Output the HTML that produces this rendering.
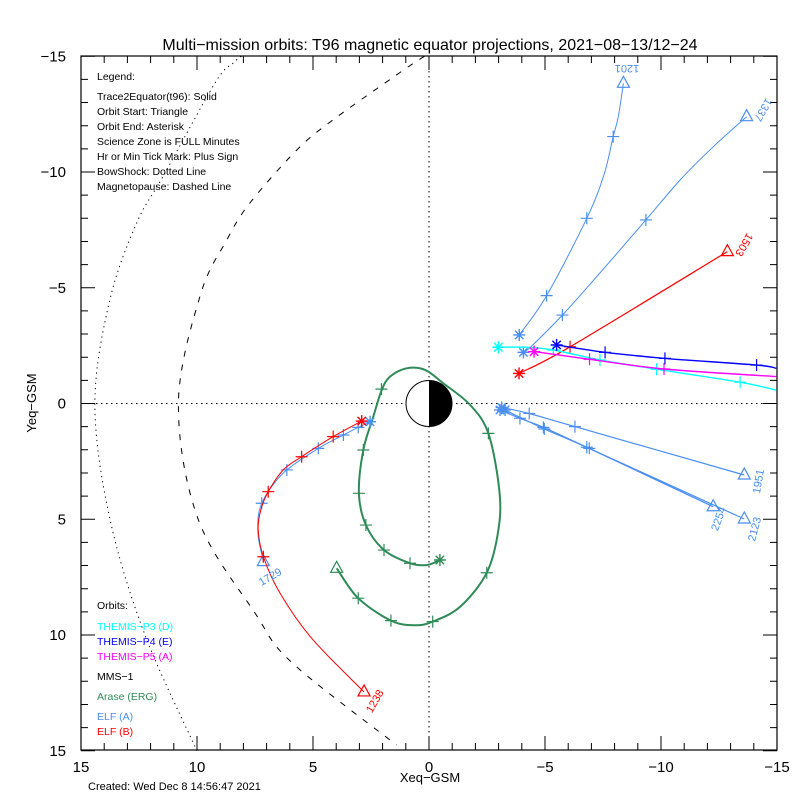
<!DOCTYPE html>
<html><head><meta charset="utf-8">
<style>
html,body{margin:0;padding:0;background:#fff;}
svg{display:block;font-family:"Liberation Sans",sans-serif;}
</style></head>
<body>
<svg id="chart" width="800" height="800" viewBox="0 0 800 800">
<rect x="0" y="0" width="800" height="800" fill="#fff"/>
<text x="430" y="50" font-size="16" text-anchor="middle" fill="#000">Multi−mission orbits: T96 magnetic equator projections, 2021−08−13/12−24</text>
<text x="430" y="782" font-size="13" text-anchor="middle">Xeq−GSM</text>
<text x="36" y="403" font-size="13" text-anchor="middle" transform="rotate(-90 36 403)">Yeq−GSM</text>
<text x="88" y="790" font-size="11">Created: Wed Dec  8 14:56:47 2021</text>
<g font-size="10.5" fill="#000">
<text x="97" y="80">Legend:</text>
<text x="97" y="100">Trace2Equator(t96): Solid</text>
<text x="97" y="115">Orbit Start: Triangle</text>
<text x="97" y="130">Orbit End: Asterisk</text>
<text x="97" y="145">Science Zone is FULL Minutes</text>
<text x="97" y="160">Hr or Min Tick Mark: Plus Sign</text>
<text x="97" y="175">BowShock: Dotted Line</text>
<text x="97" y="190">Magnetopause: Dashed Line</text>
<text x="97" y="609">Orbits:</text>
<text x="97" y="630" fill="#00ffff">THEMIS−P3 (D)</text>
<text x="97" y="645" fill="#0000ff">THEMIS−P4 (E)</text>
<text x="97" y="660" fill="#ff00ff">THEMIS−P5 (A)</text>
<text x="97" y="680" fill="#000">MMS−1</text>
<text x="97" y="700" fill="#2e8b57">Arase (ERG)</text>
<text x="97" y="720" fill="#4a8ef0">ELF (A)</text>
<text x="97" y="735" fill="#ff0000">ELF (B)</text>
</g>
<g id="marks"></g>
<g font-size="11">
<text x="627" y="65" fill="#4a8ef0" text-anchor="middle" transform="rotate(180 627 65)">1201</text>
<text x="760" y="108" fill="#4a8ef0" text-anchor="middle" transform="rotate(120 760 108)">1337</text>
<text x="741" y="243" fill="#ff0000" text-anchor="middle" transform="rotate(120 741 243)">1503</text>
<text x="762" y="482" fill="#4a8ef0" text-anchor="middle" transform="rotate(-80 762 482)">1951</text>
<text x="722" y="520" fill="#4a8ef0" text-anchor="middle" transform="rotate(-70 722 520)">2254</text>
<text x="758" y="530" fill="#4a8ef0" text-anchor="middle" transform="rotate(-75 758 530)">2123</text>
<text x="272" y="580" fill="#4a8ef0" text-anchor="middle" transform="rotate(-30 272 580)">1729</text>
<text x="378" y="703" fill="#ff0000" text-anchor="middle" transform="rotate(-60 378 703)">1238</text>
</g>
</svg>
<script>
// axis ranges / tick values
const xTicks = [15, 10, 5, 0, -5, -10, -15];
const yTicks = [-15, -10, -5, 0, 5, 10, 15];
// boundaries (X as a function of Y)
const bowY = [-15, -14.7, -13.85, -9.8, -7.8, -4.5, 0, 5, 10, 15];
const bowX = [8.1, 8.45, 9.22, 11.47, 12.6, 13.75, 14.4, 13.75, 12.24, 10.0];
const mpY = [-15, -14.3, -12.25, -10.95, -8.66, -7.06, -4.7, 0, 5, 9.05, 11.2, 14.75];
const mpX = [0.2, 1.25, 4.14, 5.7, 7.72, 8.72, 9.85, 10.8, 9.95, 7.5, 5.9, 1.4];
// Arase (ERG)
const araseX = [3.98,3.05,1.64,0.60,-0.16,-1.34,-2.49,-2.99,-3.03,-2.56,-1.77,-0.62,0.17,0.96,1.68,2.04,2.40,2.83,3.02,2.72,1.94,0.82,0.10,-0.47];
const araseY = [7.12,8.41,9.38,9.58,9.42,8.78,7.31,5.46,3.74,1.29,0.06,-0.87,-1.45,-1.52,-1.16,-0.58,0.57,2.01,3.88,5.25,6.33,6.90,6.98,6.76];
const araseTickX = [3.05,1.64,-0.16,-2.49,-2.56,2.05,2.83,3.02,2.72,1.94,0.82];
const araseTickY = [8.41,9.38,9.42,7.31,1.29,-0.62,2.01,3.88,5.25,6.33,6.90];
// ELF B 1238
const elfB1X = [2.80,5.06,6.42,7.14,7.36,7.25,6.93,6.28,5.49,4.13,2.90];
const elfB1Y = [12.46,10.14,8.2,6.62,5.46,4.60,3.81,2.87,2.30,1.43,0.76];
const elfB1TickX = [7.14,6.93,5.49,4.13];
const elfB1TickY = [6.62,3.81,2.30,1.43];
// ELF A 1729
const elfA1X = [7.14,7.36,7.36,7.21,6.78,6.13,4.77,3.69,3.05,2.54];
const elfA1Y = [6.83,5.75,4.89,4.31,3.59,2.87,1.94,1.36,1.03,0.79];
const elfA1TickX = [7.21,6.13,4.77,3.69,3.05];
const elfA1TickY = [4.31,2.87,1.94,1.36,1.03];
// ELF A 1201
const elfA2X = [-8.38,-8.16,-7.94,-7.54,-6.80,-5.07,-3.89];
const elfA2Y = [-13.83,-12.39,-11.53,-9.87,-8.0,-4.66,-2.96];
const elfA2TickX = [-7.94,-6.80,-5.07];
const elfA2TickY = [-11.53,-8.0,-4.66];
// ELF A 1337
const elfA3X = [-13.69,-12.25,-10.82,-9.35,-7.23,-5.75,-4.35,-4.07];
const elfA3Y = [-12.39,-11.09,-9.65,-7.93,-5.48,-3.82,-2.41,-2.21];
const elfA3TickX = [-9.35,-5.75];
const elfA3TickY = [-7.93,-3.82];
// ELF B 1503
const elfB2X = [-12.86,-6.08,-3.88];
const elfB2Y = [-6.56,-2.45,-1.30];
const elfB2TickX = [-6.08];
const elfB2TickY = [-2.45];
// THEMIS P3
const p3X = [-14.97,-13.41,-9.81,-7.37,-5.36,-4.21,-2.99];
const p3Y = [-0.58,-0.92,-1.48,-1.88,-2.31,-2.43,-2.43];
const p3TickX = [-13.41,-9.81,-7.37,-5.36];
const p3TickY = [-0.92,-1.48,-1.88,-2.31];
// THEMIS P4
const p4X = [-14.97,-14.12,-10.17,-7.59,-5.50];
const p4Y = [-1.52,-1.66,-1.95,-2.21,-2.53];
const p4TickX = [-14.12,-10.17,-7.59];
const p4TickY = [-1.66,-1.95,-2.21];
// THEMIS P5
const p5X = [-14.97,-10.13,-6.92,-4.53];
const p5Y = [-1.16,-1.49,-1.91,-2.24];
const p5TickX = [-10.13,-6.92];
const p5TickY = [-1.49,-1.91];
// ELF A 1951 / 2254 / 2123
const elfA4X = [-13.59,-6.29,-4.32,-3.13];
const elfA4Y = [3.09,1.0,0.43,0.17];
const elfA4TickX = [-6.29,-4.32];
const elfA4TickY = [1.0,0.43];
const elfA5X = [-12.25,-6.80,-4.93,-3.92,-3.06];
const elfA5Y = [4.46,1.89,1.03,0.64,0.28];
const elfA5TickX = [-6.80,-4.93,-3.92];
const elfA5TickY = [1.89,1.03,0.64];
const elfA6X = [-13.59,-6.91,-4.97,-3.28];
const elfA6Y = [4.99,1.94,1.10,0.28];
const elfA6TickX = [-6.91,-4.97];
const elfA6TickY = [1.94,1.10];

const L=81, R=777, T=56, B=750;
function sx(x){ return 429 - x*23.2; }
function sy(y){ return 403.5 + y*23.15; }
const NS='http://www.w3.org/2000/svg';
const g=document.getElementById('marks');
function mk(tag, attrs, parent){
  const e=document.createElementNS(NS,tag);
  for(const k in attrs) e.setAttribute(k, attrs[k]);
  (parent||g).appendChild(e);
  return e;
}
// Catmull-Rom smooth path through data points
function smoothPath(xs,ys){
  const P=xs.map((x,i)=>[sx(x),sy(ys[i])]);
  let d='M'+P[0][0].toFixed(1)+','+P[0][1].toFixed(1);
  for(let i=0;i<P.length-1;i++){
    const p0=P[Math.max(0,i-1)],p1=P[i],p2=P[i+1],p3=P[Math.min(P.length-1,i+2)];
    const c1=[p1[0]+(p2[0]-p0[0])/6,p1[1]+(p2[1]-p0[1])/6];
    const c2=[p2[0]-(p3[0]-p1[0])/6,p2[1]-(p3[1]-p1[1])/6];
    d+=`C${c1[0].toFixed(1)},${c1[1].toFixed(1)} ${c2[0].toFixed(1)},${c2[1].toFixed(1)} ${p2[0].toFixed(1)},${p2[1].toFixed(1)}`;
  }
  return d;
}

let e=mk('rect',{x:L,y:T,width:R-L,height:B-T,fill:'none',stroke:'#000','stroke-width':1.2});


for(let v=-15; v<=15; v++){
  const big = v%5===0;
  const len = big?14:7;
  const X=sx(v), Y=sy(v);
  const d=`M${X},${B}v${-len}M${X},${T}v${len}M${L},${Y}h${len}M${R},${Y}h${-len}`;
  e=mk('path',{d:d,stroke:'#000','stroke-width':1,fill:'none'});
  
  
}
xTicks.forEach(v=>{
  e=mk('text',{x:sx(v),y:772,'font-size':15,'text-anchor':'middle'});
  e.textContent = v<0 ? '−'+(-v) : String(v);
  
  
});
yTicks.forEach(v=>{
  e=mk('text',{x:66,y:sy(v)+5,'font-size':15,'text-anchor':'end'});
  e.textContent = v<0 ? '−'+(-v) : String(v);
  
  
});
e=mk('line',{x1:sx(0),y1:T,x2:sx(0),y2:B,stroke:'#000','stroke-dasharray':'1.5,3.5'});


e=mk('line',{x1:L,y1:sy(0),x2:R,y2:sy(0),stroke:'#000','stroke-dasharray':'1.5,3.5'});


e=mk('path',{d:smoothPath(bowX,bowY),fill:'none',stroke:'#000','stroke-dasharray':'1.2,4'});


e=mk('path',{d:smoothPath(mpX,mpY),fill:'none',stroke:'#000','stroke-dasharray':'6,8'});


const r=23;
e=mk('circle',{cx:sx(0),cy:sy(0),r:r,fill:'#fff',stroke:'#000'});


e=mk('path',{d:`M${sx(0)},${sy(0)-r}A${r},${r} 0 0 1 ${sx(0)},${sy(0)+r}Z`,fill:'#000'});



function plus(x,y,c,name){
  const X=sx(x),Y=sy(y);
  const p=mk('path',{d:`M${X-6},${Y}h12M${X},${Y-6}v12`,stroke:c,'stroke-width':1.2});
  
  
}
function star(x,y,c,name){
  const X=sx(x),Y=sy(y),s=6,d=4.2;
  const p=mk('path',{d:`M${X-s},${Y}h${2*s}M${X},${Y-s}v${2*s}M${X-d},${Y-d}l${2*d},${2*d}M${X-d},${Y+d}l${2*d},${-2*d}`,stroke:c,'stroke-width':1.4});
  
  
}
function tri(x,y,c,name){
  const X=sx(x),Y=sy(y);
  const p=mk('path',{d:`M${X},${Y-7}L${X+6},${Y+4}L${X-6},${Y+4}Z`,fill:'none',stroke:c,'stroke-width':1.2});
  
  
}
function track(xs,ys,tx,ty,c,w,name,startTri){
  const p=mk('path',{d:smoothPath(xs,ys),fill:'none',stroke:c,'stroke-width':w});
  
  
  tx.forEach((x,i)=>plus(x,ty[i],c,name+'-tick'));
  if(startTri) tri(xs[0],ys[0],c,name+'-start');
  star(xs[xs.length-1],ys[ys.length-1],c,name+'-end');
}
const EA='#4a8ef0';
track(araseX,araseY,araseTickX,araseTickY,'#2e8b57',2,'arase',true);
track(elfA1X,elfA1Y,elfA1TickX,elfA1TickY,EA,1,'elf-a-1729',true);
track(elfB1X,elfB1Y,elfB1TickX,elfB1TickY,'#ff0000',1,'elf-b-1238',true);
track(elfA2X,elfA2Y,elfA2TickX,elfA2TickY,EA,1,'elf-a-1201',true);
track(elfA3X,elfA3Y,elfA3TickX,elfA3TickY,EA,1,'elf-a-1337',true);
track(elfB2X,elfB2Y,elfB2TickX,elfB2TickY,'#ff0000',1.2,'elf-b-1503',true);
track(elfA4X,elfA4Y,elfA4TickX,elfA4TickY,EA,1.2,'elf-a-1951',true);
track(elfA5X,elfA5Y,elfA5TickX,elfA5TickY,EA,1.2,'elf-a-2254',true);
track(elfA6X,elfA6Y,elfA6TickX,elfA6TickY,EA,1.2,'elf-a-2123',true);
track(p3X,p3Y,p3TickX,p3TickY,'#00ffff',1.4,'themis-p3',false);
track(p5X,p5Y,p5TickX,p5TickY,'#ff00ff',1.4,'themis-p5',false);
track(p4X,p4Y,p4TickX,p4TickY,'#0000ff',1.4,'themis-p4',false);
</script>
</body></html>
